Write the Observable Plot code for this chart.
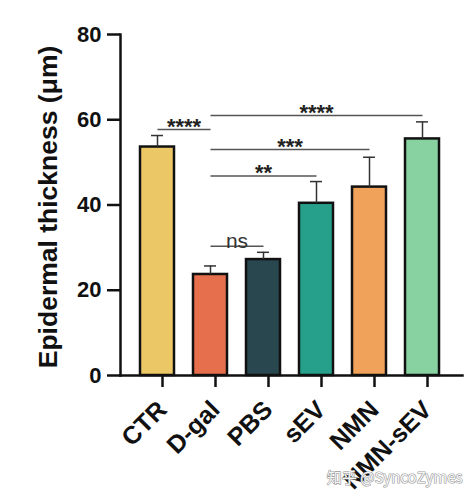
<!DOCTYPE html>
<html><head><meta charset="utf-8">
<script src="https://cdn.jsdelivr.net/npm/d3@7"></script>
<script src="https://cdn.jsdelivr.net/npm/@observablehq/plot@0.6"></script>
<style>body{margin:0;background:#fff}</style>
</head><body><div id="chart"></div>
<script>
const categories = ["CTR", "D-gal", "PBS", "sEV", "NMN", "NMN-sEV"];
const means = [53.6, 23.7, 27.2, 40.4, 44.2, 55.5];
const errors = [2.7, 2.0, 1.7, 5.1, 7.0, 4.0];
const colors = ["#EBC766", "#E66F4D", "#28474F", "#26A08A", "#F0A25A", "#88D2A2"];
const yTicks = [0, 20, 40, 60, 80];
const yLabel = "Epidermal thickness (μm)";

const compFrom = ["CTR", "D-gal", "D-gal", "D-gal", "D-gal"];
const compTo = ["D-gal", "PBS", "sEV", "NMN", "NMN-sEV"];
const compY = [57.7, 30.3, 46.8, 53.0, 61.0];
const compLabel = ["****", "ns", "**", "***", "****"];
const watermark = "知乎 @SyncoZymes";

const data = categories.map((c, i) => ({group: c, mean: means[i], err: errors[i]}));
const comps = compFrom.map((f, i) => ({from: f, to: compTo[i], y: compY[i], label: compLabel[i]}));
const starComps = comps.filter(d => d.label !== "ns");
const nsComps = comps.filter(d => d.label === "ns");

function midX(rows) {
  return (index, scales, values, dims, ctx, next) => {
    const X = Float64Array.from(values.x);
    for (const i of index) X[i] = (scales.x(rows[i].from) + scales.x(rows[i].to)) / 2;
    return next(index, scales, {...values, x: X}, dims, ctx);
  };
}

const chart = Plot.plot({
  width: 476, height: 503,
  marginLeft: 120, marginRight: 14, marginTop: 34, marginBottom: 128,
  style: {fontFamily: "'Liberation Sans', Arial, sans-serif", background: "#fff", color: "#111"},
  x: {type: "band", domain: categories, paddingInner: 0.364, paddingOuter: 0.168, insetLeft: 10, insetRight: 13},
  y: {domain: [0, 80]},
  color: {type: "ordinal", domain: categories, range: colors},
  marks: [
    Plot.barY(data, {x: "group", y: "mean", fill: "group", stroke: "#111", strokeWidth: 2.5}),
    Plot.ruleX(data, {x: "group", y1: "mean", y2: d => d.mean + d.err, stroke: "#333", strokeWidth: 1.5}),
    Plot.tickY(data, {x: "group", y: d => d.mean + d.err, stroke: "#333", strokeWidth: 1.5, insetLeft: 11, insetRight: 11}),
    Plot.link(comps, {x1: "from", x2: "to", y1: "y", y2: "y", stroke: "#555", strokeWidth: 1.5}),
    Plot.text(starComps, {x: "from", y: "y", text: "label", fontSize: 22, fontWeight: "bold", fill: "#222", lineAnchor: "middle", dy: -3, render: midX(starComps)}),
    Plot.text(nsComps, {x: "from", y: "y", text: "label", fontSize: 21, fill: "#333", lineAnchor: "bottom", dy: 2, render: midX(nsComps)}),
    Plot.frame({anchor: "left", stroke: "#111", strokeWidth: 2.5}),
    Plot.frame({anchor: "bottom", stroke: "#111", strokeWidth: 2.5}),
    Plot.axisY({ticks: yTicks, tickSize: 13, tickPadding: 6, fontSize: 22, fontWeight: "bold", strokeWidth: 2.5, label: null}),
    Plot.axisX({tickSize: 12, tickPadding: 18, tickRotate: -45, dx: 5, fontSize: 25, fontWeight: "bold", strokeWidth: 2.5, label: null}),
    Plot.text([yLabel], {frameAnchor: "left", textAnchor: "middle", lineAnchor: "middle", rotate: -90, dx: -72, dy: 2, fontSize: 26.5, letterSpacing: 1.6, fontWeight: "bold", fill: "#111"}),
    Plot.text([watermark], {frameAnchor: "bottom-right", dy: 107, textAnchor: "end", fontSize: 15, fontFamily: "'Noto Sans CJK SC', 'Noto Sans', sans-serif", fill: "#f6f6f6", stroke: "#9a9a9a", strokeWidth: 1.2, paintOrder: "stroke"})
  ]
});
document.getElementById("chart").appendChild(chart);
</script>
</body></html>
